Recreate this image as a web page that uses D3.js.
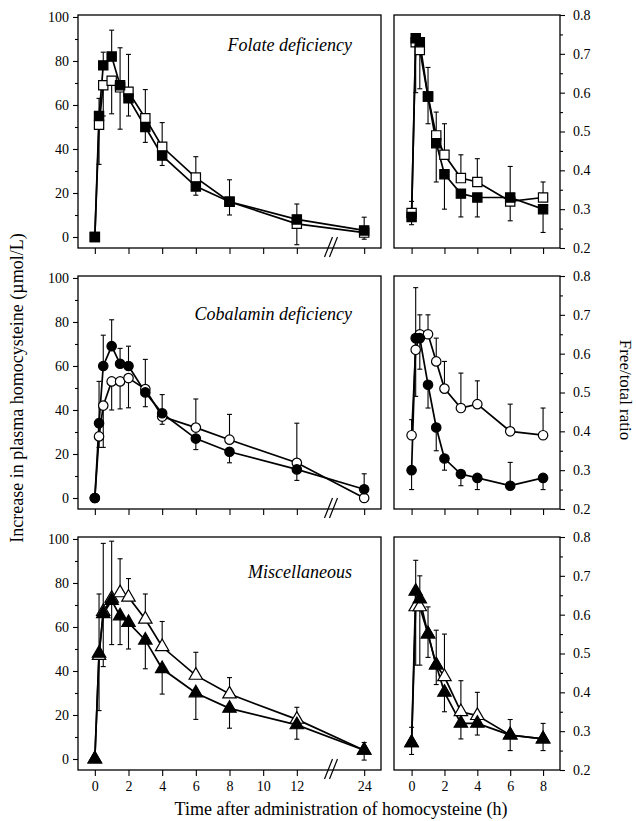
<!DOCTYPE html>
<meta charset="utf-8">
<style>
body { margin: 0; background: #fff; }
svg text { font-family: 'Liberation Serif', 'Times New Roman', serif; fill: #000; }
.frame { fill: none; stroke: #000; stroke-width: 1.3; }
.curve { fill: none; stroke: #000; stroke-width: 1.7; }
.err { stroke: #000; stroke-width: 1.1; fill: none; }
.tick line { stroke: #000; stroke-width: 1.1; }
.tick text { font-size: 14px; }
</style>
<body>
<svg width="636" height="821"></svg>

<script src="https://cdn.jsdelivr.net/npm/d3@7/dist/d3.min.js"></script>
<script>

// sampling times (h) - left panels go to 24 h, right panels to 8 h
var hoursLeft = [0, 0.25, 0.5, 1, 1.5, 2, 3, 4, 6, 8, 12, 24];
var hoursRight = [0, 0.25, 0.5, 1, 1.5, 2, 3, 4, 6, 8];
var hourTicksLeft = [0, 2, 4, 6, 8, 10, 12, 24];
var hourTicksRight = [0, 2, 4, 6, 8];
var incTicks = [0, 20, 40, 60, 80, 100];
var ratioTicks = [0.2, 0.3, 0.4, 0.5, 0.6, 0.7, 0.8];

var panelNames = ["Folate deficiency", "Cobalamin deficiency", "Miscellaneous"];
var panelSymbols = ["square", "circle", "triangle"];

// increase in plasma homocysteine (umol/L); err: + bar drawn up, - bar drawn down
var folateFilled    = [0, 55, 78, 82, 69, 63, 50, 37, 23, 16, 8, 3];
var folateFilledErr = [0, 8, 6, 12, 17, -8, -7, -4.5, -4, -6, 7, 6];
var folateOpen      = [0, 51, 69, 71, 68, 66, 54, 41, 27, 16, 6, 2];
var folateOpenErr   = [0, -18, -14, -15, -19, 17, 13, 11, 9.5, 10, -9.5, -3];

var cobalFilled    = [0, 34, 60, 69, 61, 60, 48, 38.5, 27, 21, 13, 4];
var cobalFilledErr = [0, 19, 14, 12, 7, 9, -6.5, 8.5, -5, -5, -5, 7];
var cobalOpen      = [0, 28, 42, 53, 53, 54.5, 49.5, 37, 32, 26.5, 16, 0];
var cobalOpenErr   = [0, -5, -19, -13, -12.5, -13.5, 13.5, -3.5, 13, 11.5, 18, 0];

var miscFilled    = [0, 48, 66, 72, 65, 62, 54, 41, 30, 23, 15.5, 4];
var miscFilledErr = [0, 27, 32, -20, -13, -12, -13, -11.5, -12, -9, -6.5, -4.5];
var miscOpen      = [0, 47, 67, 73, 75.5, 73.5, 63.5, 51, 38, 29.5, 18, 4];
var miscOpenErr   = [0, -25, -25, 26, 15.5, 8.5, 11.5, 11.5, 10.5, 7.5, 5.5, 3.5];

// free/total homocysteine ratio
var folateRatioFilled    = [0.28, 0.74, 0.73, 0.59, 0.47, 0.39, 0.34, 0.33, 0.33, 0.30];
var folateRatioFilledErr = [-0.02, 0, 0, -0.07, -0.10, -0.09, -0.06, -0.05, 0.08, -0.06];
var folateRatioOpen      = [0.29, 0.73, 0.71, 0.59, 0.49, 0.44, 0.38, 0.37, 0.32, 0.33];
var folateRatioOpenErr   = [0.03, -0.13, -0.10, 0.075, 0.06, 0.08, 0.06, 0.06, -0.05, 0.04];

var cobalRatioFilled    = [0.30, 0.64, 0.64, 0.52, 0.41, 0.33, 0.29, 0.28, 0.26, 0.28];
var cobalRatioFilledErr = [-0.05, 0.13, -0.08, -0.06, -0.06, -0.03, -0.03, -0.03, 0.06, -0.03];
var cobalRatioOpen      = [0.39, 0.61, 0.65, 0.65, 0.58, 0.51, 0.46, 0.47, 0.40, 0.39];
var cobalRatioOpenErr   = [0.04, -0.12, 0.05, 0.05, 0.06, 0.07, 0.09, 0.06, 0.07, 0.07];

var miscRatioFilled    = [0.27, 0.66, 0.64, 0.55, 0.47, 0.40, 0.32, 0.32, 0.29, 0.28];
var miscRatioFilledErr = [-0.03, 0.08, 0.06, 0.07, 0.09, -0.05, -0.04, -0.03, -0.04, -0.03];
var miscRatioOpen      = [0.27, 0.62, 0.62, 0.55, 0.47, 0.44, 0.35, 0.34, 0.29, 0.28];
var miscRatioOpenErr   = [0.04, -0.15, -0.15, -0.06, -0.05, 0.11, 0.08, 0.06, 0.04, 0.04];

var incSeries = [
  [folateOpen, folateOpenErr, folateFilled, folateFilledErr],
  [cobalOpen, cobalOpenErr, cobalFilled, cobalFilledErr],
  [miscOpen, miscOpenErr, miscFilled, miscFilledErr]
];
var ratioSeries = [
  [folateRatioOpen, folateRatioOpenErr, folateRatioFilled, folateRatioFilledErr],
  [cobalRatioOpen, cobalRatioOpenErr, cobalRatioFilled, cobalRatioFilledErr],
  [miscRatioOpen, miscRatioOpenErr, miscRatioFilled, miscRatioFilledErr]
];

var svg = d3.select("svg");

// layout
var leftX0 = 78, leftX1 = 381, rightX0 = 394, rightX1 = 560;
var panelTops = [15, 276, 537], panelH = 233;
var titleDy = [36, 44, 41];

// 24 h is squeezed in after the axis break (12 -> 24 drawn as 4 h)
var k = (leftX1 - leftX0) / 18;
var xLeft = d3.scaleLinear()
    .domain([-1, 12, 24, 25])
    .range([leftX0, leftX0 + 13 * k, leftX0 + 17 * k, leftX1]);
var xRight = d3.scaleLinear().domain([-1.07, 9.03]).range([rightX0, rightX1]);

var symbolType = {
  square: d3.symbolSquare,
  circle: d3.symbolCircle,
  triangle: d3.symbolTriangle
};
var symbolSize = { square: 86, circle: 70, triangle: 78 };

function drawSeries(g, hours, vals, errs, x, y, sym, filled) {
  // error bars (one-sided)
  var eb = g.append("g").attr("class", "err");
  hours.forEach(function(h, i) {
    if (!errs[i]) return;
    var x0 = x(h), y0 = y(vals[i]), y1 = y(vals[i] + errs[i]);
    eb.append("line").attr("x1", x0).attr("x2", x0).attr("y1", y0).attr("y2", y1);
    eb.append("line").attr("x1", x0 - 2.5).attr("x2", x0 + 2.5).attr("y1", y1).attr("y2", y1);
  });

  var line = d3.line()
      .x(function(d, i) { return x(hours[i]); })
      .y(function(d) { return y(d); });
  g.append("path").attr("class", "curve").attr("d", line(vals));

  return function() {
    g.append("g").selectAll("path")
        .data(vals)
      .enter().append("path")
        .attr("transform", function(d, i) { return "translate(" + x(hours[i]) + "," + y(d) + ")"; })
        .attr("d", d3.symbol().type(symbolType[sym]).size(symbolSize[sym]))
        .attr("fill", filled ? "#000" : "#fff")
        .attr("stroke", "#000")
        .attr("stroke-width", 1.2);
  };
}

panelTops.forEach(function(top, p) {
  var bottom = top + panelH;
  var last = p === panelTops.length - 1;
  var sym = panelSymbols[p];

  // ---- left panel: increase in homocysteine
  var yInc = d3.scaleLinear().domain([-5, 100.9]).range([bottom, top]);
  var gl = svg.append("g");

  var yAxis = d3.axisLeft(yInc).tickValues(incTicks).tickSize(5).tickSizeOuter(0).tickPadding(4);
  gl.append("g").attr("transform", "translate(" + leftX0 + ",0)").call(yAxis)
    .call(function(a) { a.select(".domain").remove(); });
  gl.append("g").attr("transform", "translate(" + leftX0 + ",0)")
    .call(d3.axisLeft(yInc).tickValues([10, 30, 50, 70, 90]).tickSize(3).tickFormat(""))
    .call(function(a) { a.select(".domain").remove(); });

  var xAxis = d3.axisBottom(xLeft).tickValues(hourTicksLeft).tickSize(6).tickSizeOuter(0).tickPadding(5);
  if (!last) xAxis.tickFormat("");
  gl.append("g").attr("transform", "translate(0," + bottom + ")").call(xAxis)
    .call(function(a) { a.select(".domain").remove(); });

  gl.append("rect").attr("class", "frame")
    .attr("x", leftX0).attr("y", top)
    .attr("width", leftX1 - leftX0).attr("height", panelH);

  // axis break marks
  var bx = xLeft(18) - 6;
  [0, 5].forEach(function(off) {
    gl.append("line").attr("x1", bx + off).attr("y1", bottom + 9)
      .attr("x2", bx + off + 8).attr("y2", bottom - 11)
      .attr("stroke", "#000").attr("stroke-width", 1.2);
  });

  gl.append("text")
    .attr("x", 352).attr("y", top + titleDy[p])
    .attr("text-anchor", "end")
    .style("font-style", "italic").style("font-size", "18px")
    .text(panelNames[p]);

  var s = incSeries[p];
  var openMarks = drawSeries(gl, hoursLeft, s[0], s[1], xLeft, yInc, sym, false);
  var fillMarks = drawSeries(gl, hoursLeft, s[2], s[3], xLeft, yInc, sym, true);
  openMarks();
  fillMarks();

  // ---- right panel: free/total ratio
  var yRat = d3.scaleLinear().domain([0.2, 0.8]).range([bottom, top]);
  var gr = svg.append("g");

  gr.append("g").attr("transform", "translate(" + rightX1 + ",0)")
    .call(d3.axisRight(yRat).tickValues(ratioTicks).tickSize(5).tickSizeOuter(0)
      .tickPadding(8).tickFormat(d3.format(".1f")))
    .call(function(a) { a.select(".domain").remove(); });
  gr.append("g").attr("transform", "translate(" + rightX1 + ",0)")
    .call(d3.axisRight(yRat).tickValues([0.25, 0.35, 0.45, 0.55, 0.65, 0.75]).tickSize(3).tickFormat(""))
    .call(function(a) { a.select(".domain").remove(); });

  var xAxisR = d3.axisBottom(xRight).tickValues(hourTicksRight).tickSize(6).tickSizeOuter(0).tickPadding(5);
  if (!last) xAxisR.tickFormat("");
  gr.append("g").attr("transform", "translate(0," + bottom + ")").call(xAxisR)
    .call(function(a) { a.select(".domain").remove(); });

  gr.append("rect").attr("class", "frame")
    .attr("x", rightX0).attr("y", top)
    .attr("width", rightX1 - rightX0).attr("height", panelH);

  var r = ratioSeries[p];
  var openR = drawSeries(gr, hoursRight, r[0], r[1], xRight, yRat, sym, false);
  var fillR = drawSeries(gr, hoursRight, r[2], r[3], xRight, yRat, sym, true);
  openR();
  fillR();
});

// axis titles
svg.append("text")
    .attr("transform", "translate(23,388) rotate(-90)")
    .attr("text-anchor", "middle")
    .style("font-size", "18px")
    .text("Increase in plasma homocysteine (\u00b5mol/L)");

svg.append("text")
    .attr("transform", "translate(620,390) rotate(90)")
    .attr("text-anchor", "middle")
    .style("font-size", "17px")
    .text("Free/total ratio");

svg.append("text")
    .attr("x", 341).attr("y", 815)
    .attr("text-anchor", "middle")
    .style("font-size", "18px")
    .text("Time after administration of homocysteine (h)");

</script>
</body>
